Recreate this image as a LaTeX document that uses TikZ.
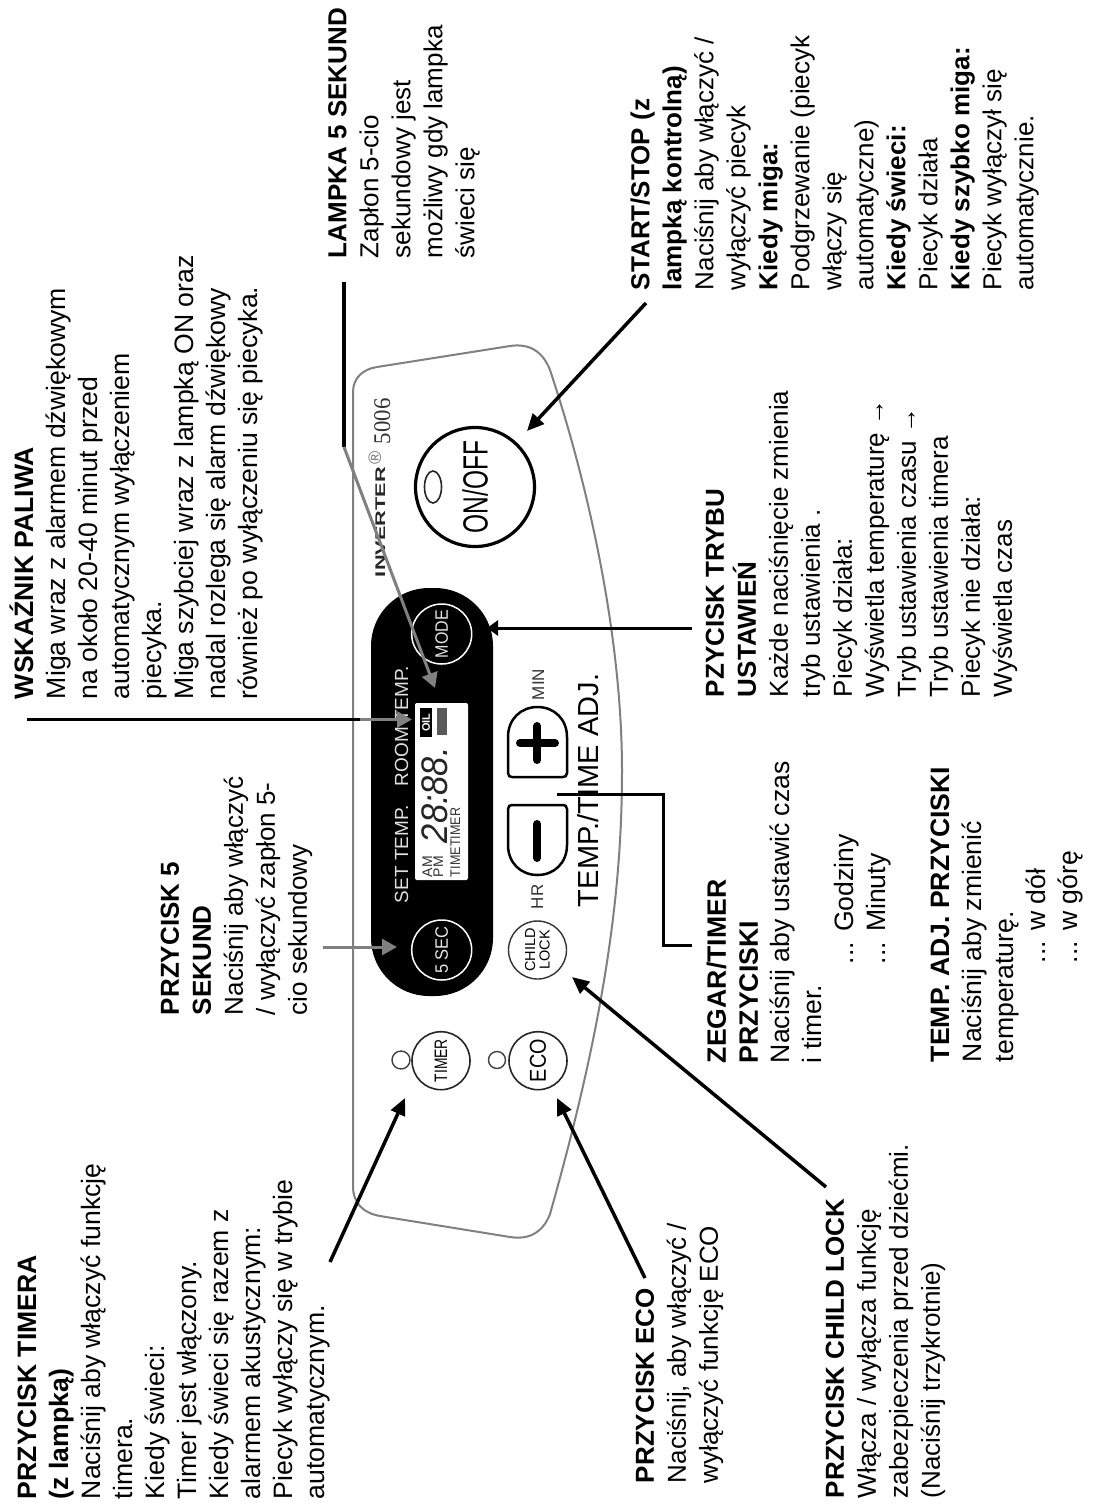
\documentclass[tikz,border=0pt]{standalone}
\usepackage{fontspec}
\setmainfont{Liberation Sans}
\newfontfamily\serifnum{Liberation Serif}
\usetikzlibrary{arrows.meta}
\newcommand{\hd}[1]{\textbf{#1}}
\newcommand{\ind}{\hspace*{99pt}}
\newcommand{\longarr}{{\serifnum →}}
\definecolor{pgray}{HTML}{808080}
\tikzset{
  txt/.style={rotate=90,anchor=north west,inner sep=0pt,outer sep=0pt,align=left,
    font=\fontsize{26}{32}\selectfont,execute at begin node=\strut},
  txtwide/.style={txt,font=\fontsize{26.6}{32}\selectfont},
  lbl/.style={rotate=90,anchor=base west,inner sep=0pt,outer sep=0pt},
  btn/.style={circle,draw,rotate=90,inner sep=0pt,outer sep=0pt,align=center},
  blk/.style={line width=3.5pt,black},
  gry/.style={line width=3pt,pgray},
  blkarrow/.style={blk,-{Triangle[length=17pt,width=15pt]}},
  gryarrow/.style={gry,-{Triangle[length=15pt,width=16pt]}},
}
\begin{document}
\begin{tikzpicture}[x=1pt,y=-1pt]
\useasboundingbox (0,0) rectangle (1094,1505);
\fill[white] (0,0) rectangle (1094,1505);

% panel outline
\draw[pgray,line width=2pt] (353,392) .. controls (353,378) and (363,369) .. (377,367)
  -- (510,346) .. controls (530,343) and (543,352) .. (550,370)
  .. controls (590,490) and (622,640) .. (622,771)
  .. controls (622,890) and (605,1020) .. (550,1214)
  .. controls (543,1232) and (530,1240) .. (510,1237)
  -- (380,1216) .. controls (363,1213) and (353,1203) .. (353,1186) -- cycle;

% black display
\fill[black,rounded corners=58pt] (371,588) rectangle (493,996);
\node[lbl,text=white!88!black,font=\fontsize{19}{19}\selectfont] (settemp) at (408,903) {SET TEMP.};
\node[lbl,text=white!88!black,font=\fontsize{19}{19}\selectfont] (roomtemp) at (408,786) {ROOM TEMP.};
\fill[white,rounded corners=2pt] (415,703) rectangle (468,880);
\node[lbl,text=black!80,font=\fontsize{14}{14}\selectfont] (am) at (432,877) {AM};
\node[lbl,text=black!80,font=\fontsize{14}{14}\selectfont] (pm) at (443,877) {PM};
\node[lbl,text=black!80,font=\fontsize{14}{14}\selectfont] (timetimer) at (460,877) {\scalebox{.9}[1]{TIMETIMER}};
\node[lbl,text=black!85,font=\fontsize{37}{37}\selectfont\itshape] (digits) at (447,843) {\scalebox{.93}[1]{28:88.}};
\fill[black] (420,708) rectangle (432,737);
\node[rotate=90,inner sep=0pt,text=white,font=\fontsize{11}{11}\selectfont\bfseries] (oil) at (426,722.5) {OIL};
\fill[black!65] (437,708) rectangle (447,735);

% buttons
\node[btn,draw=white,line width=1.5pt,minimum size=60pt,text=white!90!black,font=\fontsize{18}{18}\selectfont] (mode) at (441.7,634) {\scalebox{.89}[1]{MODE}};
\node[btn,draw=white,line width=1.5pt,minimum size=60pt,text=white!90!black,font=\fontsize{18}{18}\selectfont] (fivesec) at (441.7,950) {\scalebox{.92}[1]{5 SEC}};
\node[btn,line width=1.6pt,minimum size=58pt,draw=black!85,font=\fontsize{18}{18}\selectfont] (timer) at (441,1060.7) {\scalebox{.77}[1]{TIMER}};
\node[btn,line width=1.6pt,minimum size=58pt,draw=black!85,font=\fontsize{23}{23}\selectfont] (eco) at (538,1060.7) {\scalebox{.86}[1]{ECO}};
\node[btn,line width=1.4pt,minimum size=58pt,draw=black!80,font=\fontsize{14.5}{14.5}\selectfont] (child) at (537.5,950) {CHILD\\LOCK};
\node[circle,draw=black!75,line width=1.4pt,minimum size=18pt,inner sep=0pt] (ledtimer) at (401,1060) {};
\node[circle,draw=black!75,line width=1.4pt,minimum size=17pt,inner sep=0pt] (ledeco) at (497,1060) {};
\node[btn,line width=3.2pt,minimum size=119pt,font=\fontsize{35}{35}\selectfont] (onoff) at (475,487) {\raisebox{-9pt}{\scalebox{.7}[1]{ON/OFF}}};
\draw[line width=1.6pt,black!85] (433,487) ellipse [x radius=8.5pt,y radius=16pt];

% plus / minus buttons
\draw[line width=2.5pt] (508,809) .. controls (508,806) and (510,805) .. (512,805) -- (563,805)
  .. controls (565,805) and (567,806) .. (567,809) -- (567,845)
  .. controls (567,863) and (554,875) .. (537.5,875)
  .. controls (521,875) and (508,863) .. (508,845) -- cycle;
\draw[line width=2.5pt] (508,773) .. controls (508,776) and (510,777) .. (512,777) -- (563,777)
  .. controls (565,777) and (567,776) .. (567,773) -- (567,737)
  .. controls (567,719) and (554,707) .. (537.5,707)
  .. controls (521,707) and (508,719) .. (508,737) -- cycle;
\draw[line width=8pt,line cap=round] (537,824) -- (537,858);
\draw[line width=8pt,line cap=round] (537,726) -- (537,760) (520,743) -- (555,743);
\node[lbl,text=black!80,font=\fontsize{17}{17}\selectfont] (hr) at (543,909) {HR};
\node[lbl,text=black!80,font=\fontsize{17}{17}\selectfont] (min) at (544,700) {MIN};
\node[lbl,text=black,font=\fontsize{29}{29}\selectfont] (tempadj) at (598,907) {TEMP./TIME ADJ.};

% brand
\node[lbl,text=black!85,font=\fontsize{14}{14}\selectfont\bfseries] (inverter) at (385,577) {\scalebox{1.55}[1]{INVERTER}};
\node[lbl,text=black!55,font=\fontsize{18}{18}\selectfont] (reg) at (381,464) {®};
\node[lbl,text=black!80,font=\serifnum\fontsize{24}{24}\selectfont] (model) at (390,444) {\scalebox{.95}[1]{5006}};

% explanatory texts
\node[txtwide] (tTimer) at (17.6,1499) {\hd{PRZYCISK TIMERA}\\\hd{(z lampką)}\\Naciśnij aby włączyć funkcję\\timera.\\Kiedy świeci:\\Timer jest włączony.\\Kiedy świeci się razem z\\alarmem akustycznym:\\Piecyk wyłączy się w trybie\\automatycznym.};
\node[txtwide] (tFuel) at (9.6,699) {\hd{WSKAŹNIK PALIWA}\\Miga wraz z alarmem dźwiękowym\\na około 20-40 minut przed\\automatycznym wyłączeniem\\piecyka.\\Miga szybciej wraz z lampką ON oraz\\nadal rozlega się alarm dźwiękowy\\również po wyłączeniu się piecyka.};
\node[txt] (tFive) at (160.6,1015) {\hd{PRZYCISK 5}\\\hd{SEKUND}\\Naciśnij aby włączyć\\/ wyłączyć zapłon 5-\\cio sekundowy};
\node[txt] (tLamp) at (328.2,258) {\hd{LAMPKA 5 SEKUND}\\Zapłon 5-cio\\sekundowy jest\\możliwy gdy lampka\\świeci się};
\node[txt] (tStart) at (630.6,290) {\hd{START/STOP (z}\\\hd{lampką kontrolną)}\\Naciśnij aby włączyć /\\wyłączyć piecyk\\\hd{Kiedy miga:}\\Podgrzewanie (piecyk\\włączy się\\automatyczne)\\\hd{Kiedy świeci:}\\Piecyk działa\\\hd{Kiedy szybko miga:}\\Piecyk wyłączył się\\automatycznie.};
\node[txt] (tMode) at (705.6,697) {\hd{PZYCISK TRYBU}\\\hd{USTAWIEŃ}\\Każde naciśnięcie zmienia\\tryb ustawienia .\\Piecyk działa:\\Wyświetla temperaturę \longarr\\Tryb ustawienia czasu  \longarr\\Tryb ustawienia timera\\Piecyk nie działa:\\Wyświetla czas};
\node[txtwide] (tClock) at (706.6,1063) {\hd{ZEGAR/TIMER}\\\hd{PRZYCISKI}\\Naciśnij aby ustawić czas\\i timer.\\\ind... Godziny\\\ind... Minuty};
\node[txtwide] (tAdj) at (930.6,1062) {\hd{TEMP. ADJ. PRZYCISKI}\\Naciśnij aby zmienić\\temperaturę.\\\ind... w dół\\\ind... w górę};
\node[txt] (tEco) at (635.6,1483) {\hd{PRZYCISK ECO}\\Naciśnij, aby włączyć /\\wyłączyć funkcję ECO};
\node[txt] (tChild) at (825.6,1498) {\hd{PRZYCISK CHILD LOCK}\\Włącza / wyłącza funkcję\\zabezpieczenia przed dziećmi.\\(Naciśnij trzykrotnie)};

% connector ends
\coordinate (aStart) at (646,303);
\coordinate (bStart) at (527,431);
\coordinate (aLamp) at (344,282);
\coordinate (mLamp) at (344,447);
\coordinate (bLamp) at (435,688);
\coordinate (aMode) at (692,628);
\coordinate (bMode) at (487,628);
\coordinate (aFuel) at (27,719.5);
\coordinate (mFuel) at (360,719.5);
\coordinate (bFuel) at (412,719.5);
\coordinate (aFive) at (323,947);
\coordinate (bFive) at (397,947);
\coordinate (aClock) at (692,945);
\coordinate (m1Clock) at (663,945);
\coordinate (m2Clock) at (663,794.5);
\coordinate (bClock) at (557,794.5);
\coordinate (aChild) at (826,1187);
\coordinate (bChild) at (572,977);
\coordinate (aEco) at (645,1278);
\coordinate (bEco) at (557,1098);
\coordinate (aTimer) at (330,1262);
\coordinate (bTimer) at (405,1098);

% connectors
\draw[blkarrow] (aStart) -- (bStart);
\draw[blk] (aLamp) -- (mLamp);
\draw[gryarrow] (mLamp) -- (bLamp);
\draw[blkarrow,line width=3pt,-{Triangle[length=11pt,width=15pt]}] (aMode) -- (bMode);
\draw[blk,line width=3pt] (aFuel) -- (mFuel);
\draw[gryarrow] (mFuel) -- (bFuel);
\draw[gryarrow] (aFive) -- (bFive);
\draw[blk,line width=3pt,line join=miter] (aClock) -- (m1Clock) -- (m2Clock) -- (bClock);
\draw[blkarrow] (aChild) -- (bChild);
\draw[blkarrow] (aEco) -- (bEco);
\draw[blkarrow] (aTimer) -- (bTimer);
\end{tikzpicture}
\end{document}
